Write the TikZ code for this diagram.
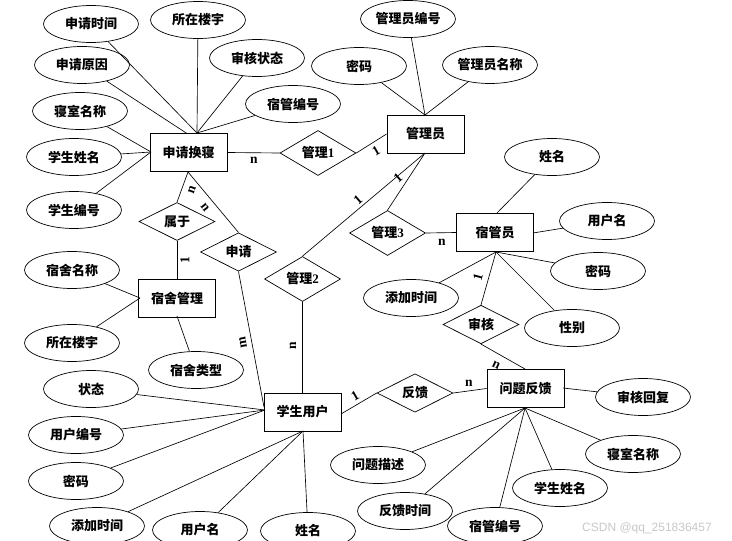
\documentclass[tikz,border=0pt]{standalone}
\usepackage{fontspec}
\setmainfont{Liberation Serif}
\setsansfont{Liberation Sans}
\newfontfamily\cjk{Noto Sans CJK SC}
\usetikzlibrary{shapes.geometric,calc}
\begin{document}
\begin{tikzpicture}[x=1pt,y=-1pt,
  every node/.style={font=\cjk\bfseries\fontsize{13}{15}\selectfont},
  ent/.style={draw, line width=0.9pt, minimum width=77pt, minimum height=38pt, inner sep=0pt},
  rel/.style={draw, diamond, line width=0.7pt, minimum width=76pt, minimum height=38pt, inner sep=0pt},
  attr/.style={draw, ellipse, line width=0.7pt, minimum width=95pt, minimum height=37pt, inner sep=0pt},
  lnk/.style={line width=0.65pt},
  card/.style={font=\rmfamily\bfseries\fontsize{13.5}{13.5}\selectfont, inner sep=0pt}]
\useasboundingbox (0,0) rectangle (732,541);
% entities
\node[ent] (sq) at (188.5,152.5) {申请换寝};
\node[ent] (gly) at (425.5,134) {管理员};
\node[ent] (sgy) at (495,232.5) {宿管员};
\node[ent] (ssgl) at (177,298) {宿舍管理};
\node[ent] (xsyh) at (302.5,412) {学生用户};
\node[ent] (wtfk) at (525.5,388.5) {问题反馈};
% relationships
\node[rel] (r1) at (318,153) {管理{\rmfamily 1}};
\node[rel] (rsy) at (177,221.5) {属于};
\node[rel] (rsq) at (238.5,252) {申请};
\node[rel] (r2) at (302.5,279) {管理{\rmfamily 2}};
\node[rel] (r3) at (387.5,233) {管理{\rmfamily 3}};
\node[rel] (rsh) at (481,324.5) {审核};
\node[rel] (rfk) at (415,393) {反馈};
% attributes of 申请换寝
\node[attr] (a1) at (91,24) {申请时间};
\node[attr] (a2) at (198,20) {所在楼宇};
\node[attr] (a3) at (257,58) {审核状态};
\node[attr] (a4) at (82,65) {申请原因};
\node[attr] (a5) at (293,104) {宿管编号};
\node[attr] (a6) at (80,111) {寝室名称};
\node[attr] (a7) at (74,157) {学生姓名};
\node[attr] (a8) at (74,210) {学生编号};
% attributes of 管理员
\node[attr] (b1) at (408,19) {管理员编号};
\node[attr] (b2) at (359,66) {密码};
\node[attr] (b3) at (490,65) {管理员名称};
% attributes of 宿管员
\node[attr] (c1) at (552,157) {姓名};
\node[attr] (c2) at (607,221) {用户名};
\node[attr] (c3) at (598,271) {密码};
\node[attr] (c4) at (411,298) {添加时间};
\node[attr] (c5) at (572,328) {性别};
% attributes of 宿舍管理
\node[attr] (d1) at (72,270) {宿舍名称};
\node[attr] (d2) at (72,343) {所在楼宇};
\node[attr] (d3) at (196,370) {宿舍类型};
% attributes of 学生用户
\node[attr] (e1) at (91,389) {状态};
\node[attr] (e2) at (76,435) {用户编号};
\node[attr] (e3) at (76,481) {密码};
\node[attr] (e4) at (97,526) {添加时间};
\node[attr] (e5) at (200,530) {用户名};
\node[attr] (e6) at (308,531) {姓名};
% attributes of 问题反馈
\node[attr] (f1) at (643,397) {审核回复};
\node[attr] (f2) at (633,454) {寝室名称};
\node[attr] (f3) at (560,488) {学生姓名};
\node[attr] (f4) at (495,526) {宿管编号};
\node[attr] (f5) at (405,511) {反馈时间};
\node[attr] (f6) at (378,465) {问题描述};
% convergence points
\coordinate (sqT) at (197,133);
\coordinate (sqT2) at (187,133.5);
\coordinate (sqL) at (151,152);
\coordinate (sqB) at (188,172);
\coordinate (glyT) at (425,115);
\coordinate (glyB) at (425,153);
\coordinate (sgyB) at (496,252);
\coordinate (sgyR) at (533,233);
\coordinate (sgyT) at (497,213);
\coordinate (ssL) at (140,298);
\coordinate (ssB) at (177,316);
\coordinate (xsL) at (265,410);
\coordinate (xsLt) at (264,407);
\coordinate (xsB) at (303,431);
\coordinate (xsR) at (341,414);
\coordinate (wtB) at (525,408);
\coordinate (wtT) at (525,369);
\coordinate (wtR) at (563,388);
% attribute connectors
\foreach \a in {a1,a2,a3,a5} \draw[lnk] (\a) -- (sqT);
\draw[lnk] (a4) -- (sqT2);
\foreach \a in {a6,a7,a8} \draw[lnk] (\a) -- (sqL);
\foreach \a in {b1,b2,b3} \draw[lnk] (\a) -- (glyT);
\draw[lnk] (c1) -- (sgyT);
\draw[lnk] (c2) -- (sgyR);
\draw[lnk] (c3) -- (sgyB);
\draw[lnk] (c4) -- (sgyB);
\draw[lnk] (c5) -- (sgyB);
\draw[lnk] (d1) -- (ssL);
\draw[lnk] (d2) -- (ssL);
\draw[lnk] (d3) -- (ssB);
\foreach \a in {e1,e2,e3} \draw[lnk] (\a) -- (xsL);
\foreach \a in {e4,e5,e6} \draw[lnk] (\a) -- (xsB);
\draw[lnk] (f1) -- (wtR);
\foreach \a in {f2,f3,f4,f5,f6} \draw[lnk] (\a) -- (wtB);
% relationship connectors
\draw[lnk] (sq.east) -- (r1.west);
\draw[lnk] (r1.east) -- (gly.west);
\draw[lnk] (rsy.north) -- (sqB);
\draw[lnk] (rsy.south) -- (ssgl.north);
\draw[lnk] (rsq.north) -- (sqB);
\draw[lnk] (rsq.south) -- (xsLt);
\draw[lnk] (r2.north) -- (glyB);
\draw[lnk] (r2.south) -- (xsyh.north);
\draw[lnk] (r3.north) -- (glyB);
\draw[lnk] (r3.east) -- (sgy.west);
\draw[lnk] (rsh.north) -- (sgyB);
\draw[lnk] (rsh.south) -- (wtT);
\draw[lnk] (xsR) -- (rfk.west);
\draw[lnk] (rfk.east) -- (wtfk.west);
% cardinalities
\node[card] (k1) at (254,160) {n};
\node[card, rotate=30] (k2) at (376,151) {1};
\node[card, rotate=70] (k3) at (192,190) {n};
\node[card, rotate=-52] (k4) at (205,207) {n};
\node[card, rotate=90] (k5) at (185,260) {1};
\node[card, rotate=100] (k6) at (243,343) {m};
\node[card, rotate=90] (k7) at (293,346) {n};
\node[card, rotate=41] (k8) at (358,200) {1};
\node[card, rotate=41] (k9) at (398,178) {1};
\node[card] (k10) at (442,242) {n};
\node[card, rotate=75] (k11) at (478,277) {1};
\node[card, rotate=-25] (k12) at (496,365) {n};
\node[card, rotate=30] (k13) at (355,396) {1};
\node[card] (k14) at (469,383) {n};
% watermark
\node[font=\sffamily\fontsize{12}{12}\selectfont, text=black!22, inner sep=0pt] (wm) at (647,528) {CSDN @qq\_251836457};
\end{tikzpicture}
\end{document}
